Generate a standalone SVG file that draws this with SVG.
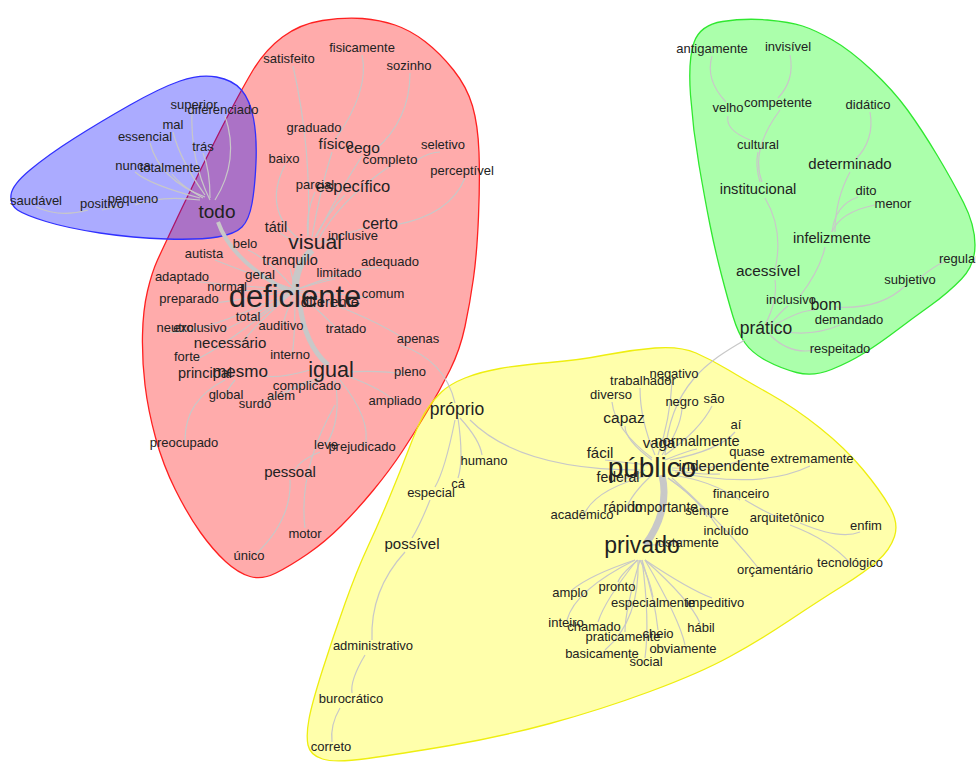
<svg xmlns="http://www.w3.org/2000/svg" width="976" height="762" viewBox="0 0 976 762">
<style>
.hull{stroke-width:1.3;fill-opacity:0.33}
.e{fill:none;stroke:#c8c8c8;stroke-width:1.2}
.t{font-family:"Liberation Sans",Arial,sans-serif;font-size:13px;fill:#222;text-anchor:middle}
</style>
<rect width="976" height="762" fill="#ffffff"/>
<g id="hulls">
<path class="hull" fill="#ff0000" stroke="#ff2020" d="M282.5,37 Q300,24 322.5,20.5 Q345,17 362.5,18.5 Q380,20 395,25 Q410,30 425,41.5 Q440,53 453.5,70 Q467,87 472.5,106 Q478,125 479,152.5 Q480,180 478.5,216.5 Q477,253 473.5,278 Q470,303 465,326.5 Q460,350 450,370 Q440,390 427.5,411 Q415,432 402.5,451 Q390,470 373.5,490 Q357,510 341,526 Q325,542 307.5,554 Q290,566 276,573 Q262,580 250,576.5 Q238,573 225.5,561.5 Q213,550 200.5,532.5 Q188,515 175.5,490 Q163,465 155.5,437.5 Q148,410 145,385 Q142,360 142.5,335 Q143,310 147.5,291 Q152,272 157.5,260 Q163,248 181.5,209 Q200,170 220,131 Q240,92 252.5,71 Q265,50 282.5,37 Z"/>
<path class="hull" fill="#0000ff" stroke="#3030ff" d="M216.5,77 Q200,74 180,81 Q160,88 130,105 Q100,122 74,138.5 Q48,155 30,170 Q12,185 11,195 Q10,205 17.5,210 Q25,215 46,221.5 Q67,228 100,233 Q133,238 166.5,239 Q200,240 217.5,237 Q235,234 242,227 Q249,220 252,203.5 Q255,187 256,162 Q257,137 253.5,118.5 Q250,100 241.5,90 Q233,80 216.5,77 Z"/>
<path class="hull" fill="#00ff00" stroke="#30e830" d="M694,42.5 Q700,25 722.5,21.5 Q745,18 767.5,20 Q790,22 802.5,26 Q815,30 832.5,40 Q850,50 871.5,70 Q893,90 907.5,110 Q922,130 937,155 Q952,180 963.5,202.5 Q975,225 975,245 Q975,265 961.5,279 Q948,293 930.5,305.5 Q913,318 896.5,330.5 Q880,343 865,352.5 Q850,362 831.5,369.5 Q813,377 796.5,372.5 Q780,368 766,360.5 Q752,353 745,343 Q738,333 733,316.5 Q728,300 721.5,275 Q715,250 710,225 Q705,200 699,165 Q693,130 690.5,95 Q688,60 694,42.5 Z"/>
<path class="hull" fill="#ffff00" stroke="#eeee10" d="M426.5,410 Q433,400 441.5,392 Q450,384 465,378 Q480,372 500,368.5 Q520,365 550,362.5 Q580,360 605,355 Q630,350 655,348 Q680,346 696,353 Q712,360 728.5,370 Q745,380 770,394 Q795,408 820,428 Q845,448 862.5,469 Q880,490 889.5,506.5 Q899,523 894.5,536.5 Q890,550 877.5,561 Q865,572 842.5,586 Q820,600 790,620 Q760,640 730,656.5 Q700,673 650,691.5 Q600,710 550,723.5 Q500,737 450,745.5 Q400,754 367.5,758.5 Q335,763 322.5,759 Q310,755 308,745 Q306,735 309,719 Q312,703 322.5,670 Q333,637 345,603.5 Q357,570 367.5,547.5 Q378,525 389,498.5 Q400,472 410,446 Q420,420 426.5,410 Z"/>
</g>
<g id="connectors">
<path class="e" d="M210,200 Q190,160 192,110"/>
<path class="e" d="M215,200 Q240,160 225,116"/>
<path class="e" d="M205,195 Q180,160 173,132"/>
<path class="e" d="M205,197 Q160,180 150,143"/>
<path class="e" d="M210,198 Q210,170 203,153"/>
<path class="e" d="M200,198 Q150,185 135,172"/>
<path class="e" d="M203,198 Q180,185 172,174"/>
<path class="e" d="M200,200 Q160,195 135,205"/>
<path class="e" d="M122,206 Q110,208 102,210"/>
<path class="e" d="M88,210 Q60,218 36,207"/>
<path class="e" d="M218,222 Q232,262 290,292" style="stroke-width:4"/>
<path class="e" d="M295,292 Q295,265 312,250" style="stroke-width:7"/>
<path class="e" d="M300,305 Q305,345 328,365" style="stroke-width:5"/>
<path class="e" d="M315,237 Q330,210 345,195"/>
<path class="e" d="M312,237 Q320,190 332,152"/>
<path class="e" d="M316,237 Q340,190 362,156"/>
<path class="e" d="M335,140 Q370,90 362,55"/>
<path class="e" d="M293,66 Q312,150 308,235"/>
<path class="e" d="M410,73 Q410,120 375,150"/>
<path class="e" d="M417,160 Q430,152 440,152"/>
<path class="e" d="M395,225 Q450,215 465,178"/>
<path class="e" d="M285,165 Q262,210 300,240"/>
<path class="e" d="M280,233 Q290,240 300,243"/>
<path class="e" d="M335,238 Q325,240 318,243"/>
<path class="e" d="M365,228 Q340,235 325,243"/>
<path class="e" d="M315,192 Q305,215 308,237"/>
<path class="e" d="M390,166 Q340,200 318,240"/>
<path class="e" d="M295,290 Q270,260 248,250"/>
<path class="e" d="M295,290 Q240,270 215,260"/>
<path class="e" d="M295,290 Q230,285 200,282"/>
<path class="e" d="M295,290 Q240,300 215,303"/>
<path class="e" d="M295,290 Q260,290 240,291"/>
<path class="e" d="M295,290 Q275,283 268,280"/>
<path class="e" d="M295,290 Q292,275 290,268"/>
<path class="e" d="M295,290 Q320,282 335,279"/>
<path class="e" d="M295,290 Q360,265 385,268"/>
<path class="e" d="M295,290 Q350,295 375,298"/>
<path class="e" d="M295,290 Q380,320 410,343"/>
<path class="e" d="M295,290 Q330,320 340,333"/>
<path class="e" d="M295,290 Q260,315 252,320"/>
<path class="e" d="M295,290 Q285,315 283,325"/>
<path class="e" d="M295,290 Q230,330 220,331"/>
<path class="e" d="M295,290 Q200,335 170,332"/>
<path class="e" d="M295,290 Q250,330 240,345"/>
<path class="e" d="M295,290 Q220,350 195,360"/>
<path class="e" d="M295,290 Q295,340 292,355"/>
<path class="e" d="M310,370 Q275,380 260,375"/>
<path class="e" d="M225,374 Q215,376 210,376"/>
<path class="e" d="M235,380 Q225,392 226,397"/>
<path class="e" d="M225,380 Q185,400 185,440"/>
<path class="e" d="M325,375 Q315,385 310,388"/>
<path class="e" d="M320,378 Q290,385 283,398"/>
<path class="e" d="M320,380 Q270,395 258,406"/>
<path class="e" d="M345,372 Q380,370 405,374"/>
<path class="e" d="M345,375 Q385,390 395,402"/>
<path class="e" d="M340,380 Q372,420 365,446"/>
<path class="e" d="M335,380 Q342,420 326,445"/>
<path class="e" d="M320,452 Q300,460 295,470"/>
<path class="e" d="M290,480 Q292,520 255,555"/>
<path class="e" d="M335,405 Q298,470 305,528"/>
<path class="e" d="M400,345 Q445,360 455,403"/>
<path class="e" d="M770,325 Q780,312 788,306"/>
<path class="e" d="M775,325 Q800,310 815,310"/>
<path class="e" d="M775,330 Q810,338 840,325"/>
<path class="e" d="M770,335 Q790,355 815,350"/>
<path class="e" d="M765,325 Q778,300 775,280"/>
<path class="e" d="M835,307 Q880,310 905,286"/>
<path class="e" d="M920,278 Q935,265 945,262"/>
<path class="e" d="M775,270 Q784,230 765,198"/>
<path class="e" d="M760,182 Q755,165 758,152"/>
<path class="e" d="M750,140 Q725,130 728,116"/>
<path class="e" d="M726,102 Q705,80 712,56"/>
<path class="e" d="M762,182 Q750,150 780,110"/>
<path class="e" d="M778,98 Q795,80 790,55"/>
<path class="e" d="M800,296 Q820,270 825,247"/>
<path class="e" d="M835,232 Q835,200 850,172"/>
<path class="e" d="M855,160 Q875,140 870,112"/>
<path class="e" d="M832,232 Q835,205 858,197"/>
<path class="e" d="M832,232 Q840,212 875,205"/>
<path class="e" d="M745,340 C710,360 670,385 665,455"/>
<path class="e" d="M662,475 C668,500 660,525 645,545" style="stroke-width:7"/>
<path class="e" d="M655,455 Q640,420 640,388"/>
<path class="e" d="M658,455 Q670,420 672,382"/>
<path class="e" d="M662,455 Q680,430 682,409"/>
<path class="e" d="M665,455 Q700,430 712,406"/>
<path class="e" d="M670,460 Q720,450 735,432"/>
<path class="e" d="M652,458 Q615,430 612,402"/>
<path class="e" d="M652,460 Q625,440 625,426"/>
<path class="e" d="M648,465 Q620,462 605,460"/>
<path class="e" d="M665,460 Q690,450 697,449"/>
<path class="e" d="M672,468 Q720,470 745,459"/>
<path class="e" d="M672,470 Q700,475 720,474"/>
<path class="e" d="M675,472 Q760,490 810,466"/>
<path class="e" d="M645,470 Q630,478 620,480"/>
<path class="e" d="M652,475 Q630,495 625,512"/>
<path class="e" d="M660,478 Q665,500 665,510"/>
<path class="e" d="M650,475 Q590,490 582,520"/>
<path class="e" d="M672,475 Q710,480 740,500"/>
<path class="e" d="M668,478 Q700,500 707,517"/>
<path class="e" d="M668,478 Q700,500 720,530"/>
<path class="e" d="M745,500 Q770,515 785,520"/>
<path class="e" d="M800,523 Q840,540 860,532"/>
<path class="e" d="M790,525 Q830,540 850,563"/>
<path class="e" d="M672,478 Q720,520 760,570"/>
<path class="e" d="M470,420 Q520,470 640,470"/>
<path class="e" d="M460,418 Q480,440 482,455"/>
<path class="e" d="M458,418 Q464,460 458,478"/>
<path class="e" d="M455,420 Q445,470 435,487"/>
<path class="e" d="M430,500 Q420,525 412,538"/>
<path class="e" d="M405,552 Q370,590 372,640"/>
<path class="e" d="M365,655 Q350,680 352,693"/>
<path class="e" d="M340,708 Q330,725 332,742"/>
<path class="e" d="M650,545 Q670,545 685,540"/>
<path class="e" d="M635,560 Q590,575 572,590"/>
<path class="e" d="M638,560 Q620,575 618,582"/>
<path class="e" d="M640,560 Q650,580 653,597"/>
<path class="e" d="M645,560 Q690,590 712,598"/>
<path class="e" d="M635,560 Q575,590 567,620"/>
<path class="e" d="M637,560 Q605,600 598,622"/>
<path class="e" d="M645,560 Q690,600 700,623"/>
<path class="e" d="M640,560 Q625,610 625,632"/>
<path class="e" d="M642,560 Q655,600 658,630"/>
<path class="e" d="M645,560 Q680,620 685,645"/>
<path class="e" d="M638,560 Q640,620 605,650"/>
<path class="e" d="M642,560 Q650,620 645,658"/>
</g>
<g id="n-superior"><text class="t" x="194" y="109">superior</text></g>
<g id="n-diferenciado"><text class="t" x="223" y="114">diferenciado</text></g>
<g id="n-mal"><text class="t" x="173" y="129">mal</text></g>
<g id="n-essencial"><text class="t" x="145" y="141">essencial</text></g>
<g id="n-tras"><text class="t" x="203" y="151">trás</text></g>
<g id="n-nunca"><text class="t" x="133" y="170">nunca</text></g>
<g id="n-totalmente"><text class="t" x="170" y="172">totalmente</text></g>
<g id="n-saudavel"><text class="t" x="36" y="205">saudável</text></g>
<g id="n-positivo"><text class="t" x="102" y="208">positivo</text></g>
<g id="n-pequeno"><text class="t" x="133" y="203">pequeno</text></g>
<g id="n-todo"><text class="t" x="217" y="218" style="font-size:19px">todo</text></g>
<g id="n-fisicamente"><text class="t" x="362" y="52">fisicamente</text></g>
<g id="n-satisfeito"><text class="t" x="289" y="63">satisfeito</text></g>
<g id="n-sozinho"><text class="t" x="409" y="70">sozinho</text></g>
<g id="n-graduado"><text class="t" x="314" y="132">graduado</text></g>
<g id="n-fisico"><text class="t" x="336" y="149" style="font-size:15px">físico</text></g>
<g id="n-cego"><text class="t" x="363" y="153" style="font-size:15.5px">cego</text></g>
<g id="n-completo"><text class="t" x="390" y="164" style="font-size:13.5px">completo</text></g>
<g id="n-seletivo"><text class="t" x="443" y="149">seletivo</text></g>
<g id="n-baixo"><text class="t" x="284" y="163">baixo</text></g>
<g id="n-perceptivel"><text class="t" x="462" y="175">perceptível</text></g>
<g id="n-parcial"><text class="t" x="315" y="189">parcial</text></g>
<g id="n-especifico"><text class="t" x="353" y="192" style="font-size:16.5px">específico</text></g>
<g id="n-tatil"><text class="t" x="276" y="232" style="font-size:14.5px">tátil</text></g>
<g id="n-certo"><text class="t" x="380" y="229" style="font-size:16px">certo</text></g>
<g id="n-visual"><text class="t" x="315" y="249" style="font-size:21px">visual</text></g>
<g id="n-inclusive"><text class="t" x="353" y="240">inclusive</text></g>
<g id="n-belo"><text class="t" x="245" y="248">belo</text></g>
<g id="n-autista"><text class="t" x="204" y="258">autista</text></g>
<g id="n-tranquilo"><text class="t" x="290" y="265" style="font-size:14.5px">tranquilo</text></g>
<g id="n-adequado"><text class="t" x="390" y="266">adequado</text></g>
<g id="n-geral"><text class="t" x="260" y="279" style="font-size:13.5px">geral</text></g>
<g id="n-limitado"><text class="t" x="339" y="277">limitado</text></g>
<g id="n-adaptado"><text class="t" x="182" y="281">adaptado</text></g>
<g id="n-normal"><text class="t" x="227" y="291">normal</text></g>
<g id="n-comum"><text class="t" x="383" y="298">comum</text></g>
<g id="n-diferente"><text class="t" x="330" y="307" style="font-size:15px">diferente</text></g>
<g id="n-deficiente"><text class="t" x="295" y="307" style="font-size:31px">deficiente</text></g>
<g id="n-preparado"><text class="t" x="189" y="303">preparado</text></g>
<g id="n-total"><text class="t" x="248" y="321">total</text></g>
<g id="n-neutro"><text class="t" x="175" y="332">neutro</text></g>
<g id="n-exclusivo"><text class="t" x="200" y="332">exclusivo</text></g>
<g id="n-auditivo"><text class="t" x="281" y="330">auditivo</text></g>
<g id="n-tratado"><text class="t" x="346" y="333">tratado</text></g>
<g id="n-necessario"><text class="t" x="230" y="348" style="font-size:15px">necessário</text></g>
<g id="n-apenas"><text class="t" x="418" y="343">apenas</text></g>
<g id="n-forte"><text class="t" x="187" y="361">forte</text></g>
<g id="n-interno"><text class="t" x="290" y="359">interno</text></g>
<g id="n-igual"><text class="t" x="331" y="377" style="font-size:21.5px">igual</text></g>
<g id="n-principal"><text class="t" x="205" y="378" style="font-size:14.5px">principal</text></g>
<g id="n-mesmo"><text class="t" x="240" y="377" style="font-size:17px">mesmo</text></g>
<g id="n-pleno"><text class="t" x="410" y="376">pleno</text></g>
<g id="n-complicado"><text class="t" x="307" y="390" style="font-size:13.5px">complicado</text></g>
<g id="n-global"><text class="t" x="226" y="399">global</text></g>
<g id="n-alem"><text class="t" x="281" y="400">além</text></g>
<g id="n-surdo"><text class="t" x="255" y="408">surdo</text></g>
<g id="n-ampliado"><text class="t" x="395" y="405">ampliado</text></g>
<g id="n-preocupado"><text class="t" x="184" y="447">preocupado</text></g>
<g id="n-leve"><text class="t" x="326" y="449">leve</text></g>
<g id="n-prejudicado"><text class="t" x="362" y="451">prejudicado</text></g>
<g id="n-pessoal"><text class="t" x="290" y="477" style="font-size:15px">pessoal</text></g>
<g id="n-motor"><text class="t" x="305" y="538">motor</text></g>
<g id="n-unico"><text class="t" x="249" y="560">único</text></g>
<g id="n-antigamente"><text class="t" x="712" y="53">antigamente</text></g>
<g id="n-invisivel"><text class="t" x="788" y="51">invisível</text></g>
<g id="n-velho"><text class="t" x="728" y="112">velho</text></g>
<g id="n-competente"><text class="t" x="778" y="107">competente</text></g>
<g id="n-didatico"><text class="t" x="868" y="109">didático</text></g>
<g id="n-cultural"><text class="t" x="758" y="149">cultural</text></g>
<g id="n-determinado"><text class="t" x="850" y="169" style="font-size:15px">determinado</text></g>
<g id="n-institucional"><text class="t" x="758" y="194" style="font-size:14.7px">institucional</text></g>
<g id="n-dito"><text class="t" x="866" y="195">dito</text></g>
<g id="n-menor"><text class="t" x="893" y="208">menor</text></g>
<g id="n-infelizmente"><text class="t" x="832" y="243" style="font-size:14.6px">infelizmente</text></g>
<g id="n-acessivel"><text class="t" x="768" y="276" style="font-size:15.4px">acessível</text></g>
<g id="n-regular"><text class="t" x="939" y="263" style="text-anchor:start">regular</text></g>
<g id="n-subjetivo"><text class="t" x="910" y="284">subjetivo</text></g>
<g id="n-inclusivo"><text class="t" x="791" y="304">inclusivo</text></g>
<g id="n-bom"><text class="t" x="826" y="310" style="font-size:16px">bom</text></g>
<g id="n-demandado"><text class="t" x="849" y="324">demandado</text></g>
<g id="n-pratico"><text class="t" x="766" y="334" style="font-size:17.5px">prático</text></g>
<g id="n-respeitado"><text class="t" x="840" y="353">respeitado</text></g>
<g id="n-proprio"><text class="t" x="457" y="415" style="font-size:17.5px">próprio</text></g>
<g id="n-trabalhador"><text class="t" x="643" y="385">trabalhador</text></g>
<g id="n-negativo"><text class="t" x="674" y="378">negativo</text></g>
<g id="n-diverso"><text class="t" x="611" y="399">diverso</text></g>
<g id="n-capaz"><text class="t" x="624" y="423" style="font-size:15.5px">capaz</text></g>
<g id="n-negro"><text class="t" x="682" y="406">negro</text></g>
<g id="n-sao"><text class="t" x="714" y="403">são</text></g>
<g id="n-ai"><text class="t" x="736" y="429">aí</text></g>
<g id="n-humano"><text class="t" x="484" y="465">humano</text></g>
<g id="n-facil"><text class="t" x="600" y="458" style="font-size:15px">fácil</text></g>
<g id="n-vaga"><text class="t" x="659" y="448" style="font-size:15px">vaga</text></g>
<g id="n-normalmente"><text class="t" x="697" y="446" style="font-size:14.6px">normalmente</text></g>
<g id="n-quase"><text class="t" x="747" y="456">quase</text></g>
<g id="n-independente"><text class="t" x="724" y="471" style="font-size:15px">independente</text></g>
<g id="n-extremamente"><text class="t" x="812" y="463">extremamente</text></g>
<g id="n-federal"><text class="t" x="618" y="482" style="font-size:14px">federal</text></g>
<g id="n-publico"><text class="t" x="652" y="477" style="font-size:28px">público</text></g>
<g id="n-ca"><text class="t" x="458" y="488">cá</text></g>
<g id="n-especial"><text class="t" x="431" y="497">especial</text></g>
<g id="n-financeiro"><text class="t" x="741" y="498">financeiro</text></g>
<g id="n-rapido"><text class="t" x="623" y="512" style="font-size:14px">rápido</text></g>
<g id="n-importante"><text class="t" x="665" y="512" style="font-size:14px">importante</text></g>
<g id="n-sempre"><text class="t" x="707" y="515">sempre</text></g>
<g id="n-academico"><text class="t" x="582" y="519">acadêmico</text></g>
<g id="n-arquitetonico"><text class="t" x="787" y="522">arquitetônico</text></g>
<g id="n-enfim"><text class="t" x="866" y="530">enfim</text></g>
<g id="n-incluido"><text class="t" x="726" y="535">incluído</text></g>
<g id="n-justamente"><text class="t" x="687" y="547">justamente</text></g>
<g id="n-possivel"><text class="t" x="412" y="549" style="font-size:15px">possível</text></g>
<g id="n-privado"><text class="t" x="642" y="553" style="font-size:23px">privado</text></g>
<g id="n-tecnologico"><text class="t" x="850" y="567">tecnológico</text></g>
<g id="n-orcamentario"><text class="t" x="775" y="574">orçamentário</text></g>
<g id="n-amplo"><text class="t" x="570" y="597">amplo</text></g>
<g id="n-pronto"><text class="t" x="617" y="591">pronto</text></g>
<g id="n-especialmente"><text class="t" x="653" y="607">especialmente</text></g>
<g id="n-impeditivo"><text class="t" x="715" y="607">impeditivo</text></g>
<g id="n-inteiro"><text class="t" x="566" y="627">inteiro</text></g>
<g id="n-chamado"><text class="t" x="594" y="631">chamado</text></g>
<g id="n-habil"><text class="t" x="701" y="632">hábil</text></g>
<g id="n-praticamente"><text class="t" x="623" y="641">praticamente</text></g>
<g id="n-cheio"><text class="t" x="658" y="638">cheio</text></g>
<g id="n-obviamente"><text class="t" x="683" y="653">obviamente</text></g>
<g id="n-basicamente"><text class="t" x="602" y="658">basicamente</text></g>
<g id="n-social"><text class="t" x="646" y="666">social</text></g>
<g id="n-administrativo"><text class="t" x="373" y="650">administrativo</text></g>
<g id="n-burocratico"><text class="t" x="351" y="703">burocrático</text></g>
<g id="n-correto"><text class="t" x="331" y="751">correto</text></g>
</svg>
